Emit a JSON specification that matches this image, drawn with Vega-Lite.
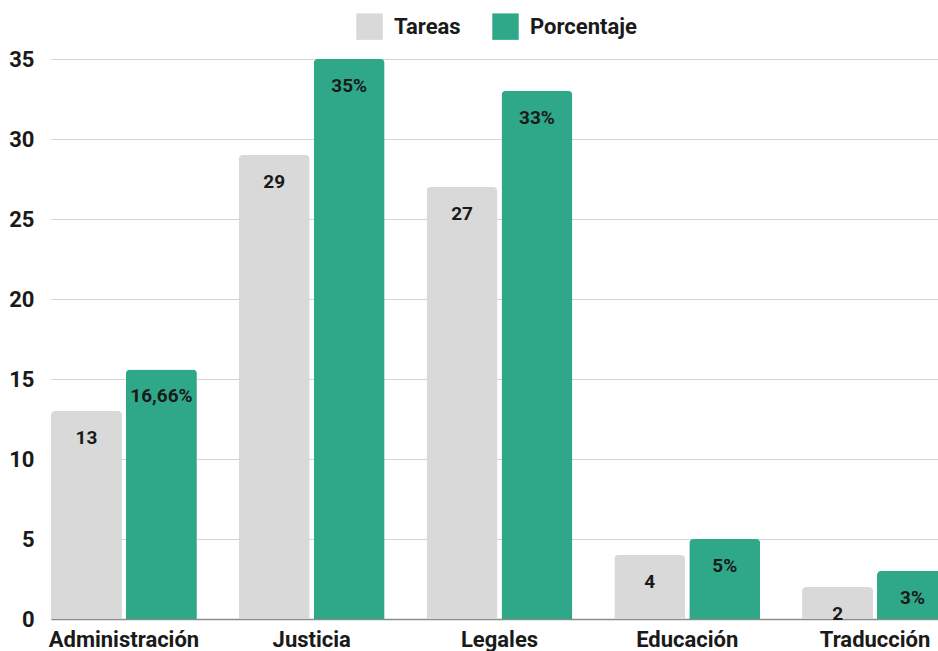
{
  "$schema": "https://vega.github.io/schema/vega-lite/v6.json",
  "autosize": {"type": "none"},
  "padding": {"left": 51, "top": 59, "right": 0, "bottom": 32},
  "width": 887,
  "height": 560,
  "background": "white",
  "config": {
    "font": "Roboto",
    "view": {"stroke": null},
    "axis": {"labelFont": "Roboto", "labelFontWeight": "bold", "labelFontSize": 22, "labelColor": "#1a1a1a", "title": null, "ticks": false}
  },
  "data": {
    "values": [
      {"area": "Administración", "serie": "Tareas", "valor": 13, "etiqueta": "13"},
      {"area": "Administración", "serie": "Porcentaje", "valor": 15.6, "etiqueta": "16,66%"},
      {"area": "Justicia", "serie": "Tareas", "valor": 29, "etiqueta": "29"},
      {"area": "Justicia", "serie": "Porcentaje", "valor": 35, "etiqueta": "35%"},
      {"area": "Legales", "serie": "Tareas", "valor": 27, "etiqueta": "27"},
      {"area": "Legales", "serie": "Porcentaje", "valor": 33, "etiqueta": "33%"},
      {"area": "Educación", "serie": "Tareas", "valor": 4, "etiqueta": "4"},
      {"area": "Educación", "serie": "Porcentaje", "valor": 5, "etiqueta": "5%"},
      {"area": "Traducción", "serie": "Tareas", "valor": 2, "etiqueta": "2"},
      {"area": "Traducción", "serie": "Porcentaje", "valor": 3, "etiqueta": "3%"}
    ]
  },
  "encoding": {
    "x": {
      "field": "area", "type": "nominal", "sort": null,
      "scale": {"range": [0, 897], "paddingInner": 0.223, "paddingOuter": 0},
      "axis": {"labelAngle": 0, "labelPadding": 10, "domain": true, "domainColor": "#8c8c8c", "domainWidth": 1.5, "grid": false}
    },
    "xOffset": {
      "field": "serie", "type": "nominal", "sort": ["Tareas", "Porcentaje"],
      "scale": {"range": [0, 145.9], "paddingInner": 0.053, "paddingOuter": 0}
    },
    "y": {
      "field": "valor", "type": "quantitative",
      "scale": {"domain": [0, 35], "nice": false},
      "axis": {"values": [0, 5, 10, 15, 20, 25, 30, 35], "domain": false, "grid": true, "gridColor": "#d4d4d4", "gridWidth": 1.2, "labelPadding": 17}
    }
  },
  "layer": [
    {
      "mark": {"type": "bar", "cornerRadiusTopLeft": 4, "cornerRadiusTopRight": 4},
      "encoding": {
        "color": {
          "field": "serie", "type": "nominal",
          "scale": {"domain": ["Tareas", "Porcentaje"], "range": ["#d9d9d9", "#2fa889"]},
          "legend": {
            "title": null, "orient": "none", "legendX": 305, "legendY": -46,
            "direction": "horizontal", "symbolType": "square", "symbolSize": 700,
            "symbolStrokeWidth": 0, "labelFont": "Roboto", "labelFontWeight": "bold",
            "labelFontSize": 22, "labelColor": "#1a1a1a", "labelOffset": 11, "columnPadding": 31
          }
        }
      }
    },
    {
      "mark": {"type": "text", "baseline": "middle", "dy": 27, "font": "Roboto", "fontWeight": "bold", "fontSize": 19, "color": "#1a1a1a"},
      "encoding": {
        "text": {"field": "etiqueta", "type": "nominal"}
      }
    }
  ]
}
